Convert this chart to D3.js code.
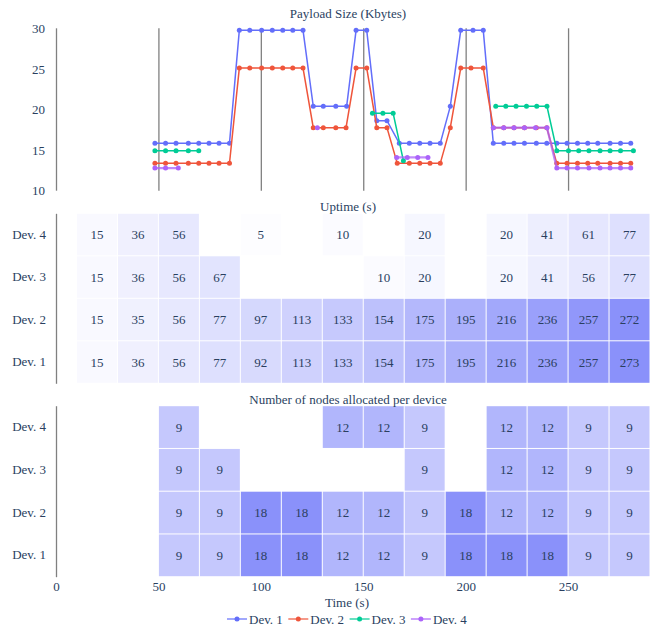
<!DOCTYPE html>
<html>
<head>
<meta charset="utf-8">
<script src="https://cdn.jsdelivr.net/npm/d3@7/dist/d3.min.js"></script>
<style>
  html, body { margin: 0; padding: 0; background: #fff; }
  svg text { font-family: "Liberation Serif", "DejaVu Serif", serif; fill: #2a3f5f; }
</style>
</head>
<body>
<svg id="chart" width="655" height="629"></svg>
<script>
// ---------------- DATA ----------------
const devices = ["Dev. 1", "Dev. 2", "Dev. 3", "Dev. 4"];
const deviceColors = ["#636efa", "#EF553B", "#00cc96", "#ab63fa"];

// Payload size (Kbytes) over time; null marks a break in the line
const dev1Time = [48.3, 53.5, 58.6, 64.6, 69.7, 74.7, 79.6, 84.7, 89.5, 94.6, 100.4, 105.6, 110.7, 115.6, 120.6,
  125.6, 130.5, 136.6, 141.9, 146.5, 151.7, 156.6, 161.6, 167.6, 172.5, 177.6, 182.6, 187.6, 192.5, 197.6, 203.6, 208.6,
  213.5, 218.6, 223.6, 228.7, 234.5, 239.6, 244.5, 249.5, 254.6, 259.6, 264.5, 270.5, 275.6, 280.6];
const dev1Size = [15.83, 15.83, 15.83, 15.83, 15.83, 15.83, 15.83, 15.83, 29.75, 29.75, 29.75, 29.75, 29.75, 29.75, 29.75,
  20.39, 20.39, 20.39, 20.39, 29.75, 29.75, 18.62, 18.62, 15.83, 15.83, 15.83, 15.83, 15.83, 20.39, 29.75, 29.75, 29.75,
  15.83, 15.83, 15.83, 15.83, 15.83, 15.83, 15.83, 15.83, 15.83, 15.83, 15.83, 15.83, 15.83, 15.83];

const dev2Time = [48.3, 53.5, 58.6, 64.6, 69.7, 74.7, 79.6, 84.7, 89.5, 94.6, 100.4, 105.6, 110.7, 115.6, 120.6,
  125.6, 130.5, 136.6, 141.6, 146.5, 151.7, 156.6, 161.6, 166.6, 172.5, 177.6, 182.6, 187.6, 192.5, 197.6, 202.6, 208.6,
  213.5, 218.6, 223.6, 228.7, 234.5, 239.6, 244.5, 249.5, 254.6, 259.6, 264.5, 270.5, 275.6, 280.6];
const dev2Size = [13.37, 13.37, 13.37, 13.37, 13.37, 13.37, 13.37, 13.37, 25.1, 25.1, 25.1, 25.1, 25.1, 25.1, 25.1,
  17.76, 17.76, 17.76, 17.76, 25.1, 25.1, 17.76, 17.76, 13.37, 13.37, 13.37, 13.37, 13.37, 17.76, 25.1, 25.1, 25.1,
  17.76, 17.76, 17.76, 17.76, 17.76, 17.76, 13.37, 13.37, 13.37, 13.37, 13.37, 13.37, 13.37, 13.37];

const dev3Time = [48.3, 53.5, 58.6, 64.6, 69.7, null, 154.5, 159.6, 164.6, 169.6, null,
  214.7, 219.6, 224.6, 229.7, 234.7, 239.7, 244.5, 250.2, 255.2, 260.2, 265.6, 270.5, 275.6, 281.9];
const dev3Size = [14.93, 14.93, 14.93, 14.93, 14.93, null, 19.53, 19.53, 19.53, 13.7, null,
  20.39, 20.39, 20.39, 20.39, 20.39, 20.39, 14.93, 14.93, 14.93, 14.93, 14.93, 14.93, 14.93, 14.93];

const dev4Time = [48.3, 53.5, 59.7, null, 127.6, null, 166.3, 171.5, 176.6, 181.6, null,
  213.5, 218.6, 223.6, 228.7, 234.1, 239.7, 244.5, 249.5, 254.6, 260.2, 265.6, 270.5, 275.6, 280.6];
const dev4Size = [12.79, 12.79, 12.79, null, 17.76, null, 14.1, 14.1, 14.1, 14.1, null,
  17.76, 17.76, 17.76, 17.76, 17.76, 17.76, 12.79, 12.79, 12.79, 12.79, 12.79, 12.79, 12.79, 12.79];

// Uptime heatmap (columns centred on these times)
const uptimeCols = [20, 40, 60, 80, 100, 120, 140, 160, 180, 200, 220, 240, 260, 280];
const uptimeDev1 = [15, 36, 56, 77, 92, 113, 133, 154, 175, 195, 216, 236, 257, 273];
const uptimeDev2 = [15, 35, 56, 77, 97, 113, 133, 154, 175, 195, 216, 236, 257, 272];
const uptimeDev3 = [15, 36, 56, 67, null, null, null, 10, 20, null, 20, 41, 56, 77];
const uptimeDev4 = [15, 36, 56, null, 5, null, 10, null, 20, null, 20, 41, 61, 77];

// Nodes allocated heatmap
const nodesCols = [60, 80, 100, 120, 140, 160, 180, 200, 220, 240, 260, 280];
const nodesDev1 = [9, 9, 18, 18, 12, 12, 9, 18, 18, 18, 9, 9];
const nodesDev2 = [9, 9, 18, 18, 12, 12, 9, 18, 12, 12, 9, 9];
const nodesDev3 = [9, 9, null, null, null, null, 9, null, 12, 12, 9, 9];
const nodesDev4 = [9, null, null, null, 12, 12, 9, null, 12, 12, 9, 9];

const xTicks = [0, 50, 100, 150, 200, 250];
const payloadTicks = [10, 15, 20, 25, 30];

// ---------------- CHART ----------------
const svg = d3.select("#chart");
const textColor = "#2a3f5f";
const gridColor = "#808080";

const x = d3.scaleLinear().domain([0, 290]).range([56, 650]);
const colW = 20; // heatmap column width in time units

// ---- Top: payload line chart
const yTop = d3.scaleLinear().domain([10, 30]).range([190.7, 28.3]);

svg.append("g")
  .attr("transform", `translate(0,${yTop.range()[0]})`)
  .call(d3.axisBottom(x).tickValues(xTicks).tickSize(-(yTop.range()[0] - yTop.range()[1])).tickFormat(""))
  .call(g => g.select(".domain").remove())
  .call(g => g.selectAll(".tick line").attr("stroke", gridColor).attr("stroke-width", 1.3));

svg.append("g")
  .attr("transform", `translate(${x(0)},0)`)
  .call(d3.axisLeft(yTop).tickValues(payloadTicks).tickSize(0).tickPadding(11))
  .call(g => g.select(".domain").remove())
  .call(g => g.selectAll(".tick text").attr("font-size", 13).attr("font-family", "Liberation Serif").attr("fill", textColor));

const series = [
  { name: devices[0], t: dev1Time, v: dev1Size },
  { name: devices[1], t: dev2Time, v: dev2Size },
  { name: devices[2], t: dev3Time, v: dev3Size },
  { name: devices[3], t: dev4Time, v: dev4Size },
].map((s, i) => ({ ...s, color: deviceColors[i], pts: s.t.map((t, j) => ({ t, v: s.v[j] })) }));

const line = d3.line().defined(d => d.v != null).x(d => x(d.t)).y(d => yTop(d.v));

series.forEach((s, i) => {
  const g = svg.append("g");
  g.append("path").datum(s.pts)
    .attr("fill", "none").attr("stroke", s.color)
    .attr("stroke-width", i === 3 ? 2.2 : 1.5)
    .attr("stroke-opacity", i === 3 ? 0.75 : 1)
    .attr("d", line);
  g.selectAll("circle").data(s.pts.filter(d => d.v != null)).join("circle")
    .attr("cx", d => x(d.t)).attr("cy", d => yTop(d.v)).attr("r", 2.5)
    .attr("fill", s.color);
});

svg.append("text").attr("x", 348).attr("y", 18).attr("text-anchor", "middle")
  .attr("font-size", 13).text("Payload Size (Kbytes)");

// ---- Heatmaps
const maxColor = d3.rgb(138, 145, 250);
function heatmap(cols, rows, top, bottom, zmax, title, titleY) {
  const y = d3.scaleBand().domain(devices.slice().reverse()).range([top, bottom]);
  const color = d3.scaleLinear().domain([0, zmax]).range(["#ffffff", maxColor]).interpolate(d3.interpolateRgb);
  const g = svg.append("g");
  const cells = [];
  rows.forEach((vals, r) => vals.forEach((v, c) => { if (v != null) cells.push({ dev: devices[r], t: cols[c], v }); }));
  g.selectAll("rect").data(cells).join("rect")
    .attr("x", d => x(d.t - colW / 2) + 0.5)
    .attr("width", d => x(d.t + colW / 2) - x(d.t - colW / 2) - 1)
    .attr("y", d => y(d.dev) + 0.5)
    .attr("height", y.bandwidth() - 1)
    .attr("fill", d => color(d.v));
  g.selectAll("text.val").data(cells).join("text").attr("class", "val")
    .attr("x", d => x(d.t)).attr("y", d => y(d.dev) + y.bandwidth() / 2 + 4.5)
    .attr("text-anchor", "middle").attr("font-size", 13).text(d => d.v);
  svg.append("g")
    .attr("transform", `translate(${x(0)},0)`)
    .call(d3.axisLeft(y).tickSize(0).tickSizeOuter(0).tickPadding(10))
    .call(g => g.select(".domain").attr("stroke", gridColor).attr("stroke-width", 1.3))
    .call(g => g.selectAll(".tick text").attr("font-size", 13).attr("font-family", "Liberation Serif").attr("fill", textColor));
  svg.append("text").attr("x", 348).attr("y", titleY).attr("text-anchor", "middle")
    .attr("font-size", 13).text(title);
  return y;
}

heatmap(uptimeCols, [uptimeDev1, uptimeDev2, uptimeDev3, uptimeDev4], 213.3, 383.3, 273, "Uptime (s)", 210.5);
heatmap(nodesCols, [nodesDev1, nodesDev2, nodesDev3, nodesDev4], 405.7, 576.7, 18, "Number of nodes allocated per device", 403.5);

// ---- Bottom x axis
svg.append("g")
  .attr("transform", "translate(0,576.7)")
  .call(d3.axisBottom(x).tickValues(xTicks).tickSize(0).tickPadding(5))
  .call(g => g.select(".domain").remove())
  .call(g => g.selectAll(".tick text").attr("font-size", 13).attr("font-family", "Liberation Serif").attr("fill", textColor));

svg.append("text").attr("x", 347).attr("y", 606.5).attr("text-anchor", "middle")
  .attr("font-size", 13).text("Time (s)");

// ---- Legend
const legend = svg.append("g").attr("transform", "translate(227,619)");
const item = legend.selectAll("g").data(series).join("g")
  .attr("transform", (d, i) => `translate(${i * 61.3},0)`);
item.append("line").attr("x1", 0).attr("x2", 20).attr("y1", 0).attr("y2", 0)
  .attr("stroke", d => d.color).attr("stroke-width", 2).attr("stroke-opacity", 0.6);
item.append("circle").attr("cx", 10).attr("cy", 0).attr("r", 2.5).attr("fill", d => d.color);
item.append("text").attr("x", 22).attr("y", 4.5).attr("font-size", 13).text(d => d.name);
</script>
</body>
</html>
